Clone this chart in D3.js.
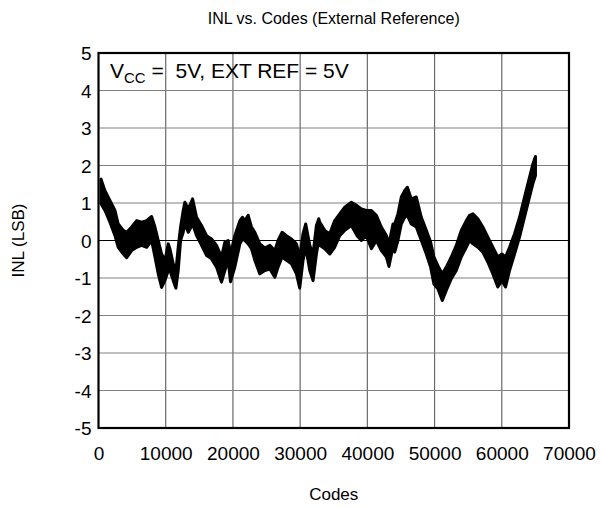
<!DOCTYPE html>
<html>
<head>
<meta charset="utf-8">
<script src="https://cdn.jsdelivr.net/npm/d3@7"></script>
<style>
  body { margin: 0; background: #fff; }
  text { font-family: "Liberation Sans", Arial, sans-serif; fill: #000; }
</style>
</head>
<body>
<svg id="chart" width="601" height="507"></svg>
<script>
// INL trace drawn as a band: code position, upper and lower edge (LSB)
const codes = [370, 960, 1700, 2450, 2940, 3690, 4190, 4930, 5680, 6420, 7160, 7900, 8400, 8890, 9390, 9880, 10380,
  10625, 11120, 11520, 11860, 12210, 12600, 12850, 13350, 14000, 14590, 15330, 16080, 16820, 17560, 18300, 18800, 19290, 19640, 20280, 21030, 21420,
  21770, 22270, 22760, 23260, 24000, 24750, 25490, 26230, 26720, 27320, 27960, 28710, 29450, 29940, 30430, 30830, 31430, 31920, 32420, 32770,
  32910, 33660, 34400, 35140, 35890, 36630, 37620, 38460, 39110, 39850, 40600, 41340, 42080, 42830, 43210, 43810,
  44060, 44550, 45050, 45550, 45950, 46540, 47280, 48030, 48770, 49410, 49900, 50500, 51150, 51740, 52490, 53230, 53970, 54720,
  55200, 55700, 56440, 57180, 57930, 58670, 59410, 60010, 60560, 61150, 61900, 62640, 63380, 64130, 64620, 65010];
const upper = [1.64, 1.33, 1.07, 0.80, 0.44, 0.27, 0.22, 0.36, 0.53, 0.49, 0.53, 0.64, 0.36, 0.00, -0.36, -0.53, -0.09,
  -0.22, -0.62, -0.80, -0.18, 0.36, 0.80, 1.02, 0.84, 1.11, 0.62, 0.40, 0.13, 0.04, -0.13, -0.44, -0.04, 0.00, -0.36, 0.13, 0.53, 0.62,
  0.53, 0.67, 0.36, 0.22, -0.09, -0.20, -0.13, -0.27, 0.00, 0.22, 0.13, 0.04, -0.09, -0.44, 0.18, 0.44, -0.13, -0.36, 0.40, 0.58,
  0.49, 0.27, 0.18, 0.53, 0.71, 0.89, 1.02, 0.93, 0.84, 0.80, 0.80, 0.67, 0.36, 0.13, -0.09, 0.44,
  0.44, 0.71, 1.16, 1.33, 1.42, 1.11, 1.16, 0.62, 0.27, -0.04, -0.44, -0.67, -0.89, -0.71, -0.44, -0.13, 0.27, 0.53,
  0.67, 0.71, 0.58, 0.36, 0.09, -0.18, -0.44, -0.36, -0.44, -0.18, 0.18, 0.62, 1.16, 1.69, 2.04, 2.24];
const lower = [0.98, 0.80, 0.49, 0.13, -0.18, -0.36, -0.46, -0.27, -0.18, -0.13, -0.18, 0.00, -0.44, -0.89, -1.25, -1.07, -0.80,
  -0.80, -1.07, -1.27, -0.80, 0.00, 0.22, 0.44, 0.22, 0.44, 0.13, -0.13, -0.40, -0.49, -0.71, -1.11, -0.80, -0.53, -1.10, -0.71, -0.09, 0.04,
  0.00, -0.09, -0.22, -0.53, -0.89, -0.80, -0.76, -0.98, -0.71, -0.44, -0.53, -0.62, -0.89, -1.27, -0.53, -0.18, -0.80, -1.07, -0.36, 0.00,
  -0.13, -0.22, -0.36, -0.18, 0.13, 0.27, 0.40, 0.13, 0.00, 0.13, -0.22, 0.00, -0.27, -0.44, -0.69, -0.18,
  -0.31, 0.00, 0.44, 0.62, 0.67, 0.44, 0.36, 0.00, -0.36, -0.71, -1.16, -1.29, -1.60, -1.33, -1.02, -0.80, -0.44, -0.18,
  0.00, -0.09, -0.18, -0.31, -0.58, -0.89, -1.24, -1.07, -1.24, -0.80, -0.36, 0.09, 0.62, 1.16, 1.51, 1.73];

const xTicks = [0, 10000, 20000, 30000, 40000, 50000, 60000, 70000];
const yTicks = [-5, -4, -3, -2, -1, 0, 1, 2, 3, 4, 5];

const svg = d3.select("#chart");
const L = 98.5, R = 569, T = 53, B = 428;
const FONT = '"Liberation Sans", Arial, sans-serif';

const x = d3.scaleLinear().domain([0, 70000]).range([L, R]);
const y = d3.scaleLinear().domain([-5, 5]).range([B, T]);

// grid
const grid = svg.append("g");
grid.selectAll("line.v").data(xTicks.slice(1, -1)).join("line")
  .attr("x1", d => x(d)).attr("x2", d => x(d))
  .attr("y1", T).attr("y2", B)
  .attr("stroke", "#6a6a6a").attr("stroke-width", 1.2);
grid.selectAll("line.h").data(yTicks.slice(1, -1)).join("line")
  .attr("x1", L).attr("x2", R)
  .attr("y1", d => y(d)).attr("y2", d => y(d))
  .attr("stroke", d => d === 0 ? "#000" : "#808080").attr("stroke-width", 1.2);

// INL band
const pts = codes.map((c, i) => ({ c, hi: upper[i], lo: lower[i] }));
svg.append("path")
  .datum(pts)
  .attr("d", d3.area().x(d => x(d.c)).y0(d => y(d.lo)).y1(d => y(d.hi)))
  .attr("fill", "#000").attr("stroke", "#000").attr("stroke-width", 3)
  .attr("stroke-linejoin", "round");

// frame
svg.append("rect")
  .attr("x", L).attr("y", T).attr("width", R - L).attr("height", B - T)
  .attr("fill", "none").attr("stroke", "#000").attr("stroke-width", 2.2);

// tick labels
const xAxis = d3.axisBottom(x).tickValues(xTicks).tickSize(0).tickPadding(0).tickFormat(d => String(d));
const gx = svg.append("g").attr("transform", `translate(0,${B})`).call(xAxis);
gx.select(".domain").remove();
gx.selectAll("text").attr("y", 32).attr("dy", 0).style("font-size", "19px")
  .style("font-family", FONT).attr("fill", "#000");

const yAxis = d3.axisLeft(y).tickValues(yTicks).tickSize(0).tickPadding(0).tickFormat(d => String(d));
const gy = svg.append("g").attr("transform", `translate(${L},0)`).call(yAxis);
gy.select(".domain").remove();
gy.selectAll("text").attr("x", -7).attr("dy", "0.35em").style("font-size", "19px")
  .style("font-family", FONT).attr("fill", "#000");

// titles
svg.append("text").attr("x", (L + R) / 2).attr("y", 24).attr("text-anchor", "middle")
  .style("font-size", "16px").text("INL vs. Codes (External Reference)");
svg.append("text").attr("x", (L + R) / 2).attr("y", 500).attr("text-anchor", "middle")
  .style("font-size", "17px").text("Codes");
svg.append("text").attr("transform", `translate(24,${(T + B) / 2}) rotate(-90)`)
  .attr("text-anchor", "middle").style("font-size", "17px").text("INL (LSB)");

// condition note
const note = svg.append("text").attr("x", 110).attr("y", 78)
  .style("font-size", "21px").style("white-space", "pre");
note.append("tspan").text("V");
note.append("tspan").attr("dy", 5).style("font-size", "15px").text("CC");
note.append("tspan").attr("dy", -5).text(" =  5V, EXT REF = 5V");
</script>
</body>
</html>
